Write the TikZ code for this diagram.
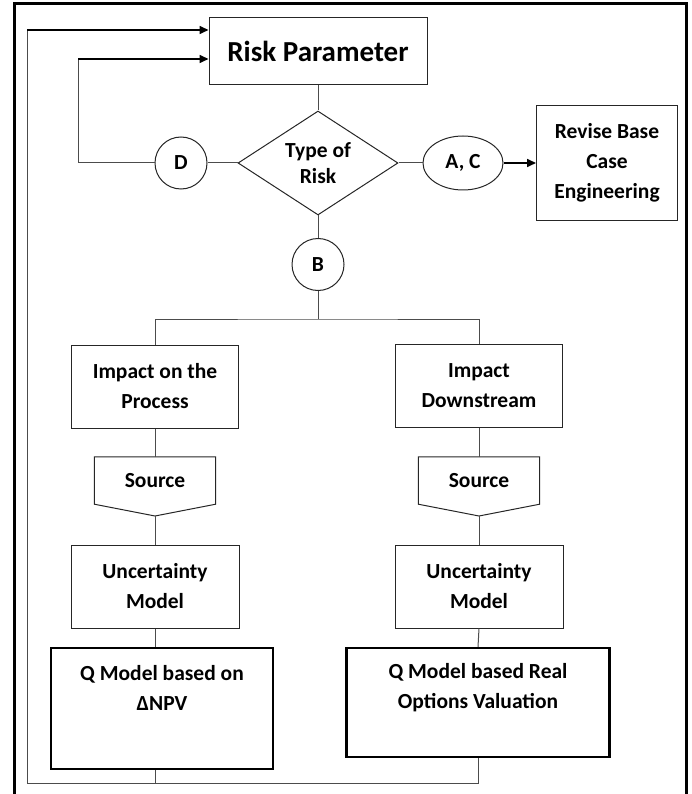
\documentclass[tikz,border=0pt]{standalone}
\usepackage{fontspec}
\setmainfont{Carlito}
\usetikzlibrary{shapes.geometric,arrows.meta,calc}
\begin{document}
\begin{tikzpicture}[x=1pt,y=-1pt,
  every node/.style={font=\bfseries\fontsize{21.5}{30}\selectfont, align=center, inner sep=0pt, text=black},
  box/.style={draw=black!85, line width=1pt, rectangle},
  qbox/.style={draw=black, line width=2.4pt, rectangle},
  conn/.style={draw=black!70, line width=1pt},
  arr/.style={draw=black, line width=1.6pt, -{Triangle[length=9pt,width=8pt]}},
]
\useasboundingbox (0,0) rectangle (691,794);
\draw[line width=3pt] (14,794) -- (14,4) -- (686,4) -- (686,794);

% nodes
\node[box, minimum width=218pt, minimum height=67pt, font=\bfseries\fontsize{29}{34}\selectfont] (risk) at (318,51.5) {Risk Parameter};
\node[draw=black!85, line width=1pt, diamond, aspect=1.54, minimum width=160pt, minimum height=104pt, font=\bfseries\fontsize{21.5}{26}\selectfont] (type) at (318,163) {Type of\\Risk};
\node[box, circle, minimum size=52pt] (d) at (181,163) {D};
\node[box, ellipse, minimum width=80pt, minimum height=54pt] (ac) at (463,163) {A, C};
\node[box, minimum width=141pt, minimum height=115pt] (rev) at (607,163) {Revise Base\\Case\\Engineering};
\node[box, circle, minimum size=52pt] (b) at (318,264.5) {B};

\node[box, minimum width=167pt, minimum height=83pt] (impL) at (155,386.5) {Impact on the\\Process};
\node[box, minimum width=167pt, minimum height=83pt] (impR) at (479,386) {Impact\\Downstream};

\node[minimum width=121pt, minimum height=47pt] (srcL) at (155,480.5) {Source};
\coordinate (srcLtip) at (155,516);
\draw[box] (srcL.north west) -- (srcL.north east) -- (srcL.south east) -- (srcLtip) -- (srcL.south west) -- cycle;
\node[minimum width=121pt, minimum height=47pt] (srcR) at (479,480.5) {Source};
\coordinate (srcRtip) at (479,516);
\draw[box] (srcR.north west) -- (srcR.north east) -- (srcR.south east) -- (srcRtip) -- (srcR.south west) -- cycle;

\node[box, minimum width=168pt, minimum height=83pt] (uncL) at (155,586.5) {Uncertainty\\Model};
\node[box, minimum width=168pt, minimum height=83pt] (uncR) at (479,586.5) {Uncertainty\\Model};

\node[qbox, minimum width=222pt, minimum height=121pt] (qL) at (162,708.5) {};
\node (qLt) at (162,688) {Q Model based on\\ΔNPV};
\node[qbox, minimum width=263pt, minimum height=109pt] (qR) at (478,702.5) {};
\node (qRt) at (478,688) {Q Model based Real\\Options Valuation};

% connectors
\draw[conn] (risk.south) -- (type.north);
\draw[conn] (type.west) -- (d.east);
\draw[conn] (type.east) -- (ac.west);
\draw[arr] (ac.east) -- (rev.west);
\draw[conn] (type.south) -- (b.north);
\coordinate (br) at (318,319);
\draw[conn] (b.south) -- (br);
\draw[conn] (impL.north) |- (br) -| (impR.north);
\draw[conn] (impL.south) -- (srcL.north);
\draw[conn] (impR.south) -- (srcR.north);
\draw[conn] (srcLtip) -- (uncL.north);
\draw[conn] (srcRtip) -- (uncR.north);
\draw[conn] (uncL.south) -- (uncL.south |- qL.north);
\draw[conn] (uncR.south) -- (qR.north);

% inner loop (D)
\coordinate (lpB) at (78,163);
\coordinate (lpT) at (78,59);
\draw[conn] (d.west) -- (lpB) -- (lpT);
\draw[arr] (lpT) -- (lpT -| risk.west);

% outer feedback loop
\coordinate (fbL) at (27,783);
\coordinate (fbT) at (27,30);
\draw[conn] (uncL.south |- qL.south) -- (uncL.south |- fbL);
\draw[conn] (qR.south) -- (qR.south |- fbL) -- (fbL) -- (fbT);
\draw[arr] (fbT) -- (fbT -| risk.west);
\end{tikzpicture}
\end{document}
